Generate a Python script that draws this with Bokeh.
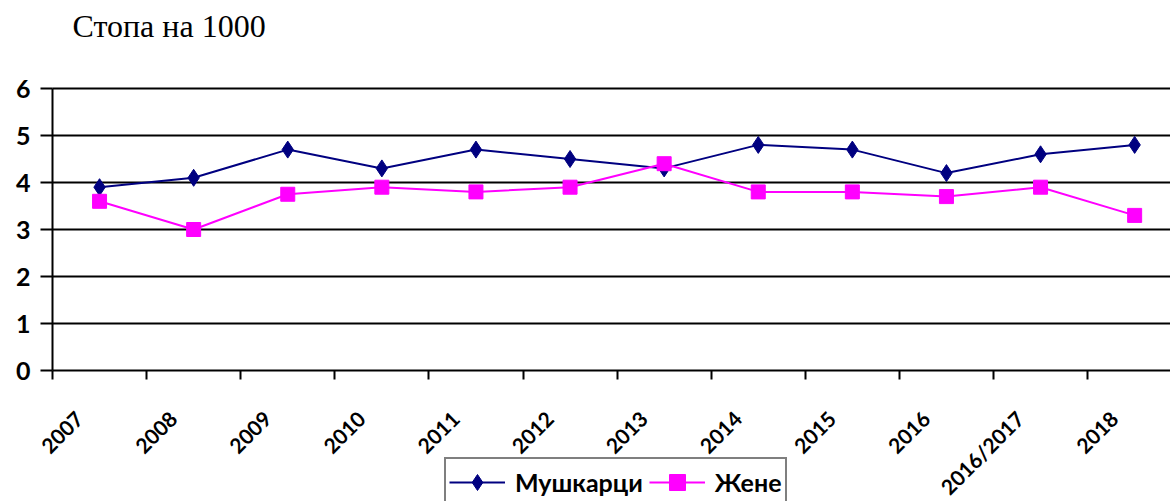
import math
from bokeh.plotting import figure
from bokeh.models import Range1d, FixedTicker, Label
from bokeh.embed import file_html
from bokeh.resources import INLINE

categories = ["2007", "2008", "2009", "2010", "2011", "2012", "2013",
              "2014", "2015", "2016", "2016/2017", "2018"]
men = [3.9, 4.1, 4.7, 4.3, 4.7, 4.5, 4.3, 4.8, 4.7, 4.2, 4.6, 4.8]
women = [3.6, 3.0, 3.75, 3.9, 3.8, 3.9, 4.4, 3.8, 3.8, 3.7, 3.9, 3.3]
y_ticks = [0, 1, 2, 3, 4, 5, 6]
title_text = "Стопа на 1000"
men_label = "Мушкарци"
women_label = "Жене"

n = len(categories)
xs = [i + 0.5 for i in range(n)]
label_pos = [i + 0.28 for i in range(n)]
boundaries = list(range(n + 1))

W, H = 1170, 501
x0_px, y0_px = 52, 370       # where the value 0 / first category boundary sit
unit_x, unit_y = 94.1, 47.0  # px per category / per value unit

p = figure(width=W, height=H, output_backend="svg", toolbar_location=None,
           x_range=Range1d(-x0_px / unit_x, (W - x0_px) / unit_x),
           y_range=Range1d(-(H - y0_px) / unit_y, y0_px / unit_y),
           min_border_left=0, min_border_right=0, min_border_top=0,
           min_border_bottom=0)

p.outline_line_color = None
p.xgrid.visible = False
p.ygrid.visible = False

# title as text inside the canvas
p.add_layout(Label(x=72, y=H - 25, x_units="screen", y_units="screen",
                   text=title_text, text_font="Liberation Serif",
                   text_font_size="32px", text_color="black",
                   text_baseline="alphabetic", text_align="left"))

# horizontal grid lines spanning the category area
grid_y = y_ticks[1:]
p.segment(x0=[0] * len(grid_y), y0=grid_y, x1=[n] * len(grid_y), y1=grid_y,
          line_color="black", line_width=2)

# x axis drawn at y = 0
xa = p.xaxis[0]
xa.fixed_location = 0
xa.bounds = (0, n)
xa.ticker = FixedTicker(ticks=label_pos, minor_ticks=boundaries)
xa.major_label_overrides = {pos: lab for pos, lab in zip(label_pos, categories)}
xa.major_tick_out = 0
xa.major_tick_in = 0
xa.minor_tick_out = 9
xa.minor_tick_in = 0
xa.minor_tick_line_color = "black"
xa.minor_tick_line_width = 2
xa.axis_line_color = "black"
xa.axis_line_width = 2
xa.major_label_orientation = math.pi / 4
xa.major_label_text_font = "Lato"
xa.major_label_text_font_style = "bold"
xa.major_label_text_font_size = "21px"
xa.major_label_text_color = "black"
xa.major_label_standoff = 35

# y axis drawn at x = 0
ya = p.yaxis[0]
ya.fixed_location = 0
ya.bounds = (0, 6)
ya.ticker = FixedTicker(ticks=y_ticks)
ya.major_tick_out = 12
ya.major_tick_in = 0
ya.major_tick_line_color = "black"
ya.major_tick_line_width = 2
ya.minor_tick_out = 0
ya.minor_tick_in = 0
ya.axis_line_color = "black"
ya.axis_line_width = 2
ya.major_label_text_font = "Lato"
ya.major_label_text_font_style = "bold"
ya.major_label_text_font_size = "25px"
ya.major_label_text_color = "black"
ya.major_label_standoff = 10

navy = "#000080"
magenta = "#FF00FF"
p.line(xs, men, line_color=navy, line_width=2, legend_label=men_label)
p.scatter(xs, men, marker="diamond", size=17,
          fill_color=navy, line_color=navy, legend_label=men_label)
p.line(xs, women, line_color=magenta, line_width=2, legend_label=women_label)
p.scatter(xs, women, marker="square", size=14,
          fill_color=magenta, line_color=magenta, legend_label=women_label)

lg = p.legend[0]
lg.orientation = "horizontal"
lg.location = (444, -6)
lg.border_line_color = "black"
lg.border_line_width = 2
lg.background_fill_color = "white"
lg.background_fill_alpha = 1
lg.label_text_font = "Lato"
lg.label_text_font_style = "bold"
lg.label_text_font_size = "25px"
lg.label_text_color = "black"
lg.glyph_width = 56
lg.glyph_height = 40
lg.padding = 3
lg.spacing = 6
lg.margin = 0
lg.label_standoff = 10

open("out.html", "w").write(file_html(p, INLINE))
